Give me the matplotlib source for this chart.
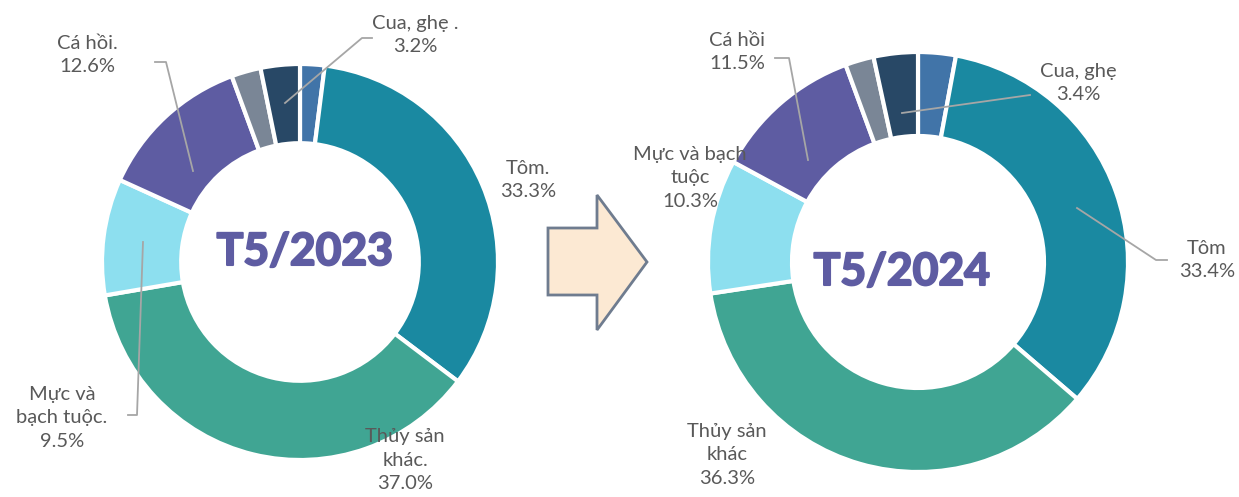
import matplotlib.pyplot as plt
import matplotlib.patheffects as pe
from matplotlib.patches import Polygon

# Data (clockwise from 12 o'clock)
segments = ['Khác 1', 'Tôm', 'Thủy sản khác', 'Mực và bạch tuộc', 'Cá hồi', 'Khác 2', 'Cua, ghẹ']
colors = ['#4174a8', '#1a89a1', '#40a593', '#8ddfef', '#5e5ca2', '#7a8696', '#284866']

share_2023 = [2.0, 33.3, 37.0, 9.5, 12.6, 2.4, 3.2]
share_2024 = [2.9, 33.4, 36.3, 10.3, 11.5, 2.2, 3.4]

labels_2023 = {'Cua, ghẹ': 'Cua, ghẹ .', 'Tôm': 'Tôm.', 'Thủy sản khác': 'Thủy sản\nkhác.',
               'Mực và bạch tuộc': 'Mực và\nbạch tuộc.', 'Cá hồi': 'Cá hồi.'}
labels_2024 = {'Cua, ghẹ': 'Cua, ghẹ', 'Tôm': 'Tôm', 'Thủy sản khác': 'Thủy sản\nkhác',
               'Mực và bạch tuộc': 'Mực và bạch\ntuộc', 'Cá hồi': 'Cá hồi'}

W, H = 1239, 497
fig = plt.figure(figsize=(W / 100, H / 100), dpi=100)
ax = fig.add_axes([0, 0, 1, 1])

font = ['Lato', 'DejaVu Sans']
txt_color = '#595959'
lead_color = '#a6a6a6'
title_color = '#5e5ca2'


def donut(values, cx, cy, r):
    ax.pie(values, colors=colors, startangle=90, counterclock=False, center=(cx, H - cy),
           radius=r, wedgeprops=dict(width=r * 0.4, edgecolor='white', linewidth=3))


def label(text, value, x, y):
    ax.text(x, H - y, f'{text}\n{value:.1f}%', ha='center', va='center', fontsize=14.5,
            color=txt_color, family=font, linespacing=1.45)


def leader(pts):
    ax.plot([p[0] for p in pts], [H - p[1] for p in pts], color=lead_color, lw=1.3)


def title(text, x, y):
    ax.text(x, H - y, text, ha='center', va='center', fontsize=32, fontweight='bold',
            color=title_color, family=font,
            path_effects=[pe.withStroke(linewidth=1.5, foreground=title_color)])


# 2023
donut(share_2023, 300, 262, 198)
title('T5/2023', 305, 252)
pos_2023 = {'Cua, ghẹ': (415, 35), 'Tôm': (528, 180), 'Thủy sản khác': (405, 460),
            'Mực và bạch tuộc': (62, 418), 'Cá hồi': (87, 55)}
for name, (x, y) in pos_2023.items():
    label(labels_2023[name], share_2023[segments.index(name)], x, y)
leader([(372, 38), (362, 38), (285, 103)])
leader([(155, 62), (166, 62), (193, 171)])
leader([(128, 415), (137, 415), (143, 242)])

# arrow
arrow = Polygon([(548, H - 228), (597, H - 228), (597, H - 195), (647, H - 262),
                 (597, H - 330), (597, H - 295), (548, H - 295)], closed=True,
                facecolor='#fce9d3', edgecolor='#6f7c8f', lw=2)
ax.add_patch(arrow)

# 2024
donut(share_2024, 918, 262, 210)
title('T5/2024', 902, 272)
pos_2024 = {'Cua, ghẹ': (1078, 83), 'Tôm': (1207, 260), 'Thủy sản khác': (727, 455),
            'Mực và bạch tuộc': (690, 178), 'Cá hồi': (737, 52)}
for name, (x, y) in pos_2024.items():
    label(labels_2024[name], share_2024[segments.index(name)], x, y)
leader([(1030, 95), (902, 113)])
leader([(775, 58), (789, 58), (808, 160)])
leader([(1167, 260), (1156, 260), (1077, 208)])

ax.set_xlim(0, W)
ax.set_ylim(0, H)
ax.set_aspect('equal')
ax.axis('off')

fig.savefig('out.png', dpi=100)
